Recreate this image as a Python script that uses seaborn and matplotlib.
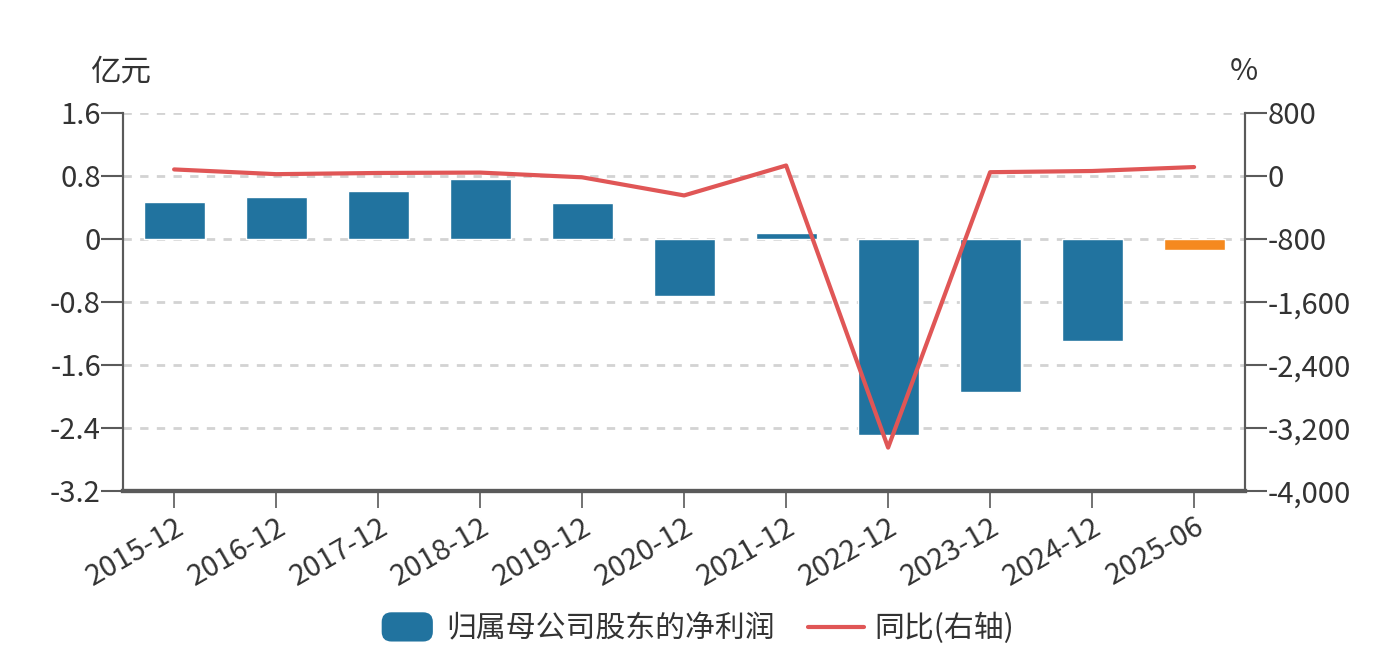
import numpy as np
import pandas as pd
import matplotlib
matplotlib.use("Agg")
import matplotlib.pyplot as plt
import seaborn as sns
from matplotlib.patches import FancyBboxPatch
from matplotlib.lines import Line2D
from matplotlib.legend_handler import HandlerPatch

# 数据
periods = ['2015-12', '2016-12', '2017-12', '2018-12', '2019-12', '2020-12',
           '2021-12', '2022-12', '2023-12', '2024-12', '2025-06']
net_profit = [0.47, 0.53, 0.61, 0.76, 0.45, -0.72, 0.07, -2.49, -1.95, -1.30, -0.14]
yoy = [80, 20, 35, 40, -20, -250, 130, -3450, 45, 60, 110]

bar_label = '归属母公司股东的净利润'
line_label = '同比(右轴)'

blue = '#21739f'
orange = '#f5891f'
red = '#e05656'
axis_gray = '#5a5a5a'
text_gray = '#333333'

sns.set_theme(style='white')
plt.rcParams['font.family'] = ['Noto Sans CJK SC', 'DejaVu Sans']
plt.rcParams['axes.unicode_minus'] = False

df = pd.DataFrame({'period': periods, 'profit': net_profit, 'yoy': yoy})
bar_colors = [blue] * (len(periods) - 1) + [orange]

fig = plt.figure(figsize=(13.99, 6.59), dpi=100)
ax = fig.add_axes([0.088, 0.255, 0.802, 0.574])

sns.barplot(data=df, x='period', y='profit', hue='period', palette=bar_colors,
            legend=False, width=0.6, saturation=1, ax=ax, zorder=2)
ax.set_ylim(-3.2, 1.6)
ax.set_yticks(np.arange(-3.2, 1.61, 0.8))
ax.set_yticklabels(['-3.2', '-2.4', '-1.6', '-0.8', '0', '0.8', '1.6'])
ax.set_xlim(-0.5, len(periods) - 0.5)
ax.set_xlabel('')
ax.set_ylabel('')

for y in np.arange(-2.4, 1.61, 0.8):
    ax.axhline(y, color='#d3d3d3', lw=2, ls=(0, (3, 3)), zorder=1)

ax2 = ax.twinx()
sns.lineplot(x=np.arange(len(periods)), y=df['yoy'], color=red, lw=3,
             sort=False, ax=ax2, zorder=3)
ax2.set_ylim(-4000, 800)
ax2.set_yticks(np.arange(-4000, 801, 800))
ax2.set_yticklabels([f'{v:,}' for v in range(-4000, 801, 800)])
ax2.set_ylabel('')
ax2.set_xlim(-0.5, len(periods) - 0.5)

for a in (ax, ax2):
    a.spines['top'].set_visible(False)
    a.spines['left'].set_color(axis_gray)
    a.spines['right'].set_color(axis_gray)
    a.spines['left'].set_linewidth(1.5)
    a.spines['right'].set_linewidth(1.5)
    a.spines['bottom'].set_color(axis_gray)
    a.spines['bottom'].set_linewidth(3)
    a.tick_params(axis='y', colors=axis_gray, labelcolor=text_gray,
                  labelsize=21, length=16, width=1.5, pad=0)

ax.set_xticks(range(len(periods)))
ax.set_xticklabels(periods, rotation=30, ha='right', rotation_mode='anchor')
ax.tick_params(axis='x', colors=axis_gray, labelcolor=text_gray,
               labelsize=21, length=12, width=1.2, pad=3, bottom=True)

fig.text(0.064, 0.891, '亿元', fontsize=22, color=text_gray, va='center')
fig.text(0.889, 0.891, '%', fontsize=22, color=text_gray, va='center', ha='center')


class RoundBoxHandler(HandlerPatch):
    def create_artists(self, legend, orig_handle, xdescent, ydescent,
                       width, height, fontsize, trans):
        p = FancyBboxPatch((-xdescent + 2, -ydescent - 3), width - 4, height + 6,
                           boxstyle='round,pad=0,rounding_size=7',
                           facecolor=blue, edgecolor='none', transform=trans)
        return [p]


bar_handle = FancyBboxPatch((0, 0), 1, 1, facecolor=blue)
line_handle = Line2D([0], [0], color=red, lw=3)
fig.legend([bar_handle, line_handle], [bar_label, line_label],
           loc='center', bbox_to_anchor=(0.498, 0.046), ncol=2, frameon=False,
           fontsize=21.5, labelcolor=text_gray, handlelength=1.9,
           handletextpad=0.35, columnspacing=1.1,
           handler_map={FancyBboxPatch: RoundBoxHandler()})

fig.savefig('out.png', dpi=100)
